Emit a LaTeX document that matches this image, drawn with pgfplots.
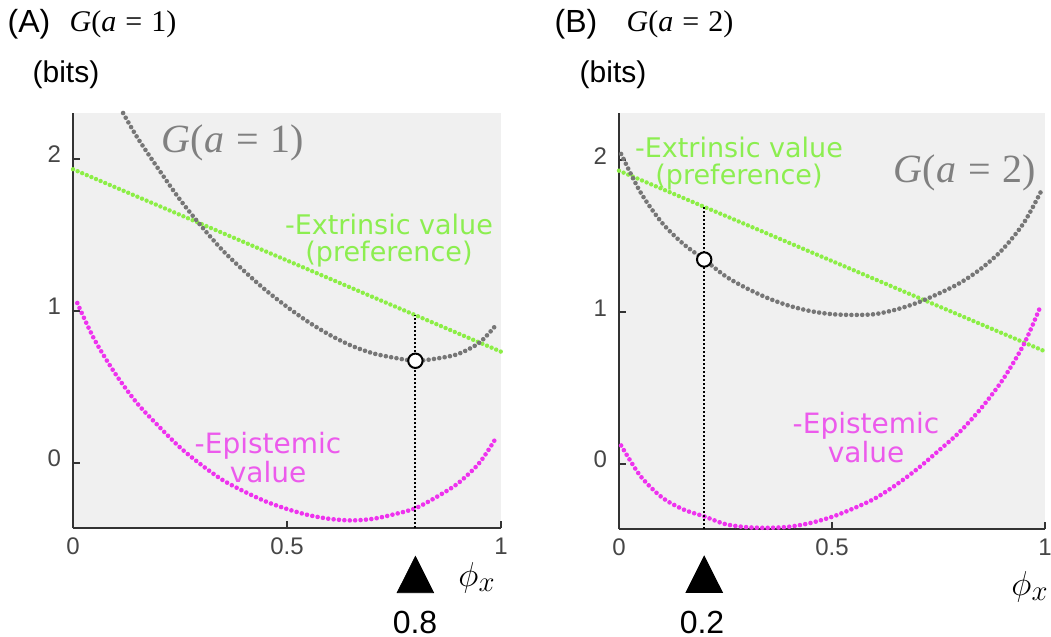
\documentclass[border=0pt]{standalone}
\usepackage{fontspec}
\setmainfont{Liberation Sans}
\newfontfamily\serifG{Liberation Serif}
\newfontfamily\annot{DejaVu Sans}
\usepackage{pgfplots}
\pgfplotsset{compat=1.18}

\definecolor{bg}{RGB}{240,240,240}
\definecolor{gdot}{RGB}{118,118,118}
\definecolor{glab}{RGB}{128,128,128}
\definecolor{grn}{RGB}{140,238,70}
\definecolor{grntxt}{RGB}{140,238,80}
\definecolor{pnk}{RGB}{238,50,238}
\definecolor{pnktxt}{RGB}{236,90,236}
\definecolor{tickc}{RGB}{70,70,70}

\newcommand{\eqs}{\hspace{0.3em}=\hspace{0.3em}}

\pgfplotsset{
  panel/.style={
    scale only axis, anchor=south west,
    xmin=0, xmax=1, ymin=-0.43, ymax=2.30,
    axis x line*=bottom, axis y line*=left,
    axis line style={line width=1.2pt, draw=black!80, -},
    axis background/.style={fill=bg},
    xtick={0,0.5,1}, ytick={0,1,2},
    xticklabels={0,0.5,1}, yticklabels={0,1,2},
    tick align=inside, major tick length=3.5pt,
    tick style={line width=0.9pt, black!80},
    ticklabel style={font=\fontsize{12}{13}\selectfont, text=tickc},
    xticklabel style={yshift=-1.5pt},
    yticklabel style={xshift=-2.5pt, yshift=2pt},
    clip=false,
  },
  dotg/.style={draw=gdot, line width=2.3pt, line cap=round, dash pattern=on 0pt off 2.7pt, smooth},
  dotp/.style={draw=pnk, line width=2.3pt, line cap=round, dash pattern=on 0pt off 2.7pt, smooth},
  dotl/.style={draw=grn, line width=2.2pt, line cap=round, dash pattern=on 0pt off 2.5pt},
  vline/.style={black, line width=1pt, dash pattern=on 1pt off 1pt},
  ring/.style={only marks, mark=*, mark size=3.6pt, mark options={fill=white, draw=black, line width=1pt}},
  tri/.style={only marks, mark=triangle*, mark size=10.5pt, mark options={fill=black, draw=black, yscale=1.15}},
}

\begin{document}
\begin{tikzpicture}
\path[use as bounding box] (0,0) rectangle (525.5pt,-318.5pt);

% ---------- Panel A ----------
\begin{axis}[panel, at={(36.5pt,-264pt)}, width=214pt, height=207.5pt]
\addplot[dotl] coordinates {(0,1.93) (1,0.73)};
\addplot[dotp] coordinates {
 (0.01,1.05) (0.05,0.81) (0.10,0.58) (0.15,0.39) (0.20,0.24) (0.25,0.10)
 (0.30,-0.015) (0.35,-0.115) (0.40,-0.19) (0.45,-0.255) (0.50,-0.305)
 (0.55,-0.345) (0.60,-0.37) (0.65,-0.38) (0.70,-0.37) (0.75,-0.34)
 (0.80,-0.30) (0.85,-0.225) (0.90,-0.135) (0.95,0.0) (0.99,0.17)};
\addplot[dotg] coordinates {
 (0.117,2.30) (0.15,2.14) (0.20,1.93) (0.25,1.73) (0.30,1.555) (0.35,1.395)
 (0.40,1.26) (0.45,1.135) (0.50,1.025) (0.55,0.925) (0.60,0.84) (0.65,0.77)
 (0.70,0.72) (0.75,0.69) (0.80,0.67) (0.85,0.685) (0.90,0.715) (0.95,0.79)
 (0.99,0.91)};
\addplot[vline] coordinates {(0.8,-0.43) (0.8,0.97)};
\addplot[ring] coordinates {(0.8,0.67)};
\addplot[tri] coordinates {(0.8,-0.776)};
\end{axis}

% ---------- Panel B ----------
\begin{axis}[panel, at={(309.5pt,-264.5pt)}, width=213pt, height=208pt, ymax=2.31]
\addplot[dotl] coordinates {(0,1.93) (1,0.74)};
\addplot[dotp] coordinates {
 (0.005,0.12) (0.05,-0.08) (0.10,-0.22) (0.15,-0.30) (0.20,-0.347) (0.25,-0.398)
 (0.30,-0.418) (0.35,-0.422) (0.40,-0.415) (0.45,-0.39) (0.50,-0.35)
 (0.55,-0.295) (0.60,-0.23) (0.65,-0.14) (0.70,-0.035) (0.75,0.085)
 (0.80,0.21) (0.85,0.365) (0.90,0.55) (0.95,0.785) (0.99,1.04)};
\addplot[dotg] coordinates {
 (0.005,2.04) (0.05,1.79) (0.10,1.59) (0.15,1.45) (0.20,1.345) (0.25,1.235)
 (0.30,1.155) (0.35,1.09) (0.40,1.04) (0.45,1.005) (0.50,0.985) (0.55,0.98)
 (0.60,0.985) (0.65,1.015) (0.70,1.06) (0.75,1.12) (0.80,1.19) (0.85,1.285)
 (0.90,1.41) (0.95,1.585) (0.99,1.79)};
\addplot[vline] coordinates {(0.2,-0.43) (0.2,1.692)};
\addplot[ring] coordinates {(0.2,1.345)};
\addplot[tri] coordinates {(0.2,-0.768)};
\end{axis}

% ---------- Texts ----------
\node[font=\fontsize{16}{18}\selectfont] at (14.5pt,-12pt) {(A)};
\node[font=\fontsize{15}{17}\selectfont\serifG] at (61.5pt,-12pt) {\textit{G}(\textit{a}\eqs1)};
\node[font=\fontsize{15}{17}\selectfont] at (33pt,-37.5pt) {(bits)};
\node[font=\fontsize{16}{18}\selectfont] at (288pt,-12pt) {(B)};
\node[font=\fontsize{15}{17}\selectfont\serifG] at (340pt,-12pt) {\textit{G}(\textit{a}\eqs2)};
\node[font=\fontsize{15}{17}\selectfont] at (306.5pt,-37.5pt) {(bits)};

\node[font=\fontsize{20}{22}\selectfont\serifG, text=glab] at (116.5pt,-71.5pt) {\textit{G}(\textit{a}\eqs1)};
\node[font=\fontsize{20}{22}\selectfont\serifG, text=glab] at (482.5pt,-86.5pt) {\textit{G}(\textit{a}\eqs2)};

\node[font=\fontsize{13.5}{13.5}\selectfont\annot, text=grntxt, align=center, inner sep=0pt] at (194.5pt,-120.5pt) {-Extrinsic value\\(preference)};
\node[font=\fontsize{13.5}{13.5}\selectfont\annot, text=grntxt, align=center, inner sep=0pt] at (369.5pt,-82pt) {-Extrinsic value\\(preference)};

\node[font=\fontsize{14}{12.5}\selectfont\annot, text=pnktxt, align=center, inner sep=0pt] at (134pt,-229pt) {-Epistemic\\value};
\node[font=\fontsize{14}{12.5}\selectfont\annot, text=pnktxt, align=center, inner sep=0pt] at (433pt,-219pt) {-Epistemic\\value};

\node[font=\fontsize{16}{18}\selectfont] at (207.5pt,-311pt) {0.8};
\node[font=\fontsize{16}{18}\selectfont] at (351pt,-311pt) {0.2};

\node[font=\fontsize{19}{21}\selectfont] at (238.5pt,-289pt) {$\phi_x$};
\node[font=\fontsize{19}{21}\selectfont] at (515pt,-293.5pt) {$\phi_x$};
\end{tikzpicture}
\end{document}
